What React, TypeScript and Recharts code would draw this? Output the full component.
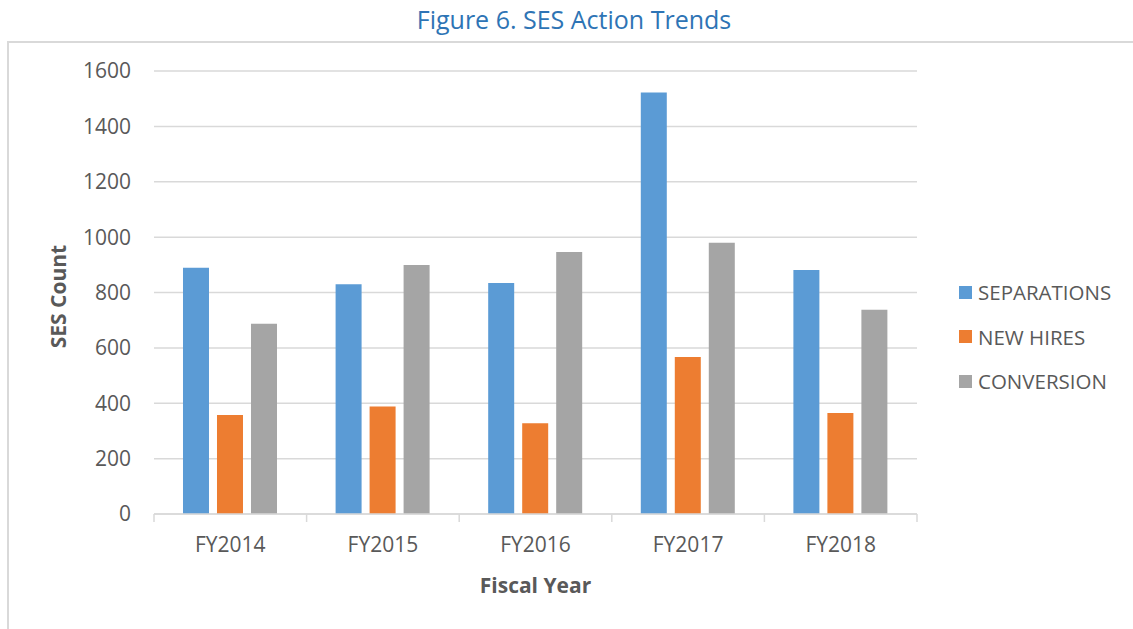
import { BarChart, Bar, XAxis, YAxis, CartesianGrid, Legend } from "recharts";

const years = ["FY2014", "FY2015", "FY2016", "FY2017", "FY2018"];
const separations = [889, 830, 834, 1522, 881];
const newHires = [358, 388, 328, 567, 365];
const conversion = [687, 899, 946, 980, 738];
const yTicks = [0, 200, 400, 600, 800, 1000, 1200, 1400, 1600];

const series = [
  { key: "separations", name: "SEPARATIONS", color: "#5B9BD5" },
  { key: "newHires", name: "NEW HIRES", color: "#ED7D31" },
  { key: "conversion", name: "CONVERSION", color: "#A5A5A5" },
];

const data = years.map((fy, i) => ({
  fy,
  separations: separations[i],
  newHires: newHires[i],
  conversion: conversion[i],
}));

const FONT = "'Open Sans', sans-serif";
const TEXT = "#595959";
const LINE = "#d9d9d9";

function YearTick(props: any) {
  const { x, y, payload, index, visibleTicksCount } = props;
  const half = payload?.offset ?? 76.3;
  const last = index === visibleTicksCount - 1;
  return (
    <g>
      <line x1={x - half} y1={y} x2={x - half} y2={y + 8} stroke={LINE} strokeWidth={1.5} />
      {last && (
        <line x1={x + half} y1={y} x2={x + half} y2={y + 8} stroke={LINE} strokeWidth={1.5} />
      )}
      <text x={x} y={y + 38} textAnchor="middle" fill={TEXT} fontSize={21} fontFamily={FONT}>
        {payload.value}
      </text>
    </g>
  );
}

function LegendList() {
  return (
    <div style={{ fontFamily: FONT }}>
      {series.map((s) => (
        <div
          key={s.key}
          style={{ display: "flex", alignItems: "center", height: 44.5, color: TEXT, fontSize: 20.5 }}
        >
          <span style={{ width: 13, height: 13, background: s.color, marginRight: 6, display: "inline-block" }} />
          <span>{s.name}</span>
        </div>
      ))}
    </div>
  );
}

export default function App() {
  return (
    <div
      style={{
        position: "absolute",
        left: 0,
        top: 0,
        width: 1133,
        height: 629,
        overflow: "hidden",
        background: "#fff",
        fontFamily: FONT,
      }}
    >
      <svg width={1133} height={629} style={{ position: "absolute", left: 0, top: 0 }}>
        <text x={574} y={29} textAnchor="middle" fill="#2E74B5" fontSize={25} fontFamily={FONT}>
          Figure 6. SES Action Trends
        </text>
        <path d="M 8 640 L 8 42 L 1140 42" fill="none" stroke={LINE} strokeWidth={2} />
      </svg>
      <div style={{ position: "absolute", left: 0, top: 0 }}>
        <BarChart
          width={1133}
          height={629}
          data={data}
          margin={{ top: 71, right: 216, bottom: 35, left: 0 }}
          barCategoryGap="19%"
          barGap={8}
        >
          <CartesianGrid vertical={false} stroke={LINE} strokeWidth={1.5} />
          <XAxis
            dataKey="fy"
            height={80}
            axisLine={{ stroke: LINE, strokeWidth: 1.5 }}
            tickLine={false}
            tickSize={0}
            tickMargin={0}
            tick={<YearTick />}
            interval={0}
            label={{
              content: (p: any) => {
                const vb = p.viewBox || { x: 154, y: 514, width: 763 };
                return (
                  <text
                    x={vb.x + vb.width / 2}
                    y={vb.y + 79}
                    textAnchor="middle"
                    fill={TEXT}
                    fontSize={21}
                    fontWeight="bold"
                    fontFamily={FONT}
                  >
                    Fiscal Year
                  </text>
                );
              },
            }}
          />
          <YAxis
            width={154}
            domain={[0, 1600]}
            ticks={yTicks}
            axisLine={false}
            tickLine={false}
            tickSize={0}
            tickMargin={23}
            tick={{ fill: TEXT, fontSize: 21, fontFamily: FONT }}
            label={{
              content: (p: any) => {
                const vb = p.viewBox || { x: 0, y: 71, height: 443 };
                const cx = vb.x + 66;
                const cy = vb.y + vb.height / 2 + 4;
                return (
                  <text
                    x={cx}
                    y={cy}
                    transform={`rotate(-90 ${cx} ${cy})`}
                    textAnchor="middle"
                    fill={TEXT}
                    fontSize={21}
                    fontWeight="bold"
                    fontFamily={FONT}
                  >
                    SES Count
                  </text>
                );
              },
            }}
          />
          <Legend
            layout="vertical"
            align="center"
            verticalAlign="middle"
            content={<LegendList />}
            wrapperStyle={{ left: 959, top: 270, width: 174 }}
          />
          {series.map((s) => (
            <Bar
              key={s.key}
              dataKey={s.key}
              name={s.name}
              fill={s.color}
              isAnimationActive={false}
            />
          ))}
        </BarChart>
      </div>
    </div>
  );
}
